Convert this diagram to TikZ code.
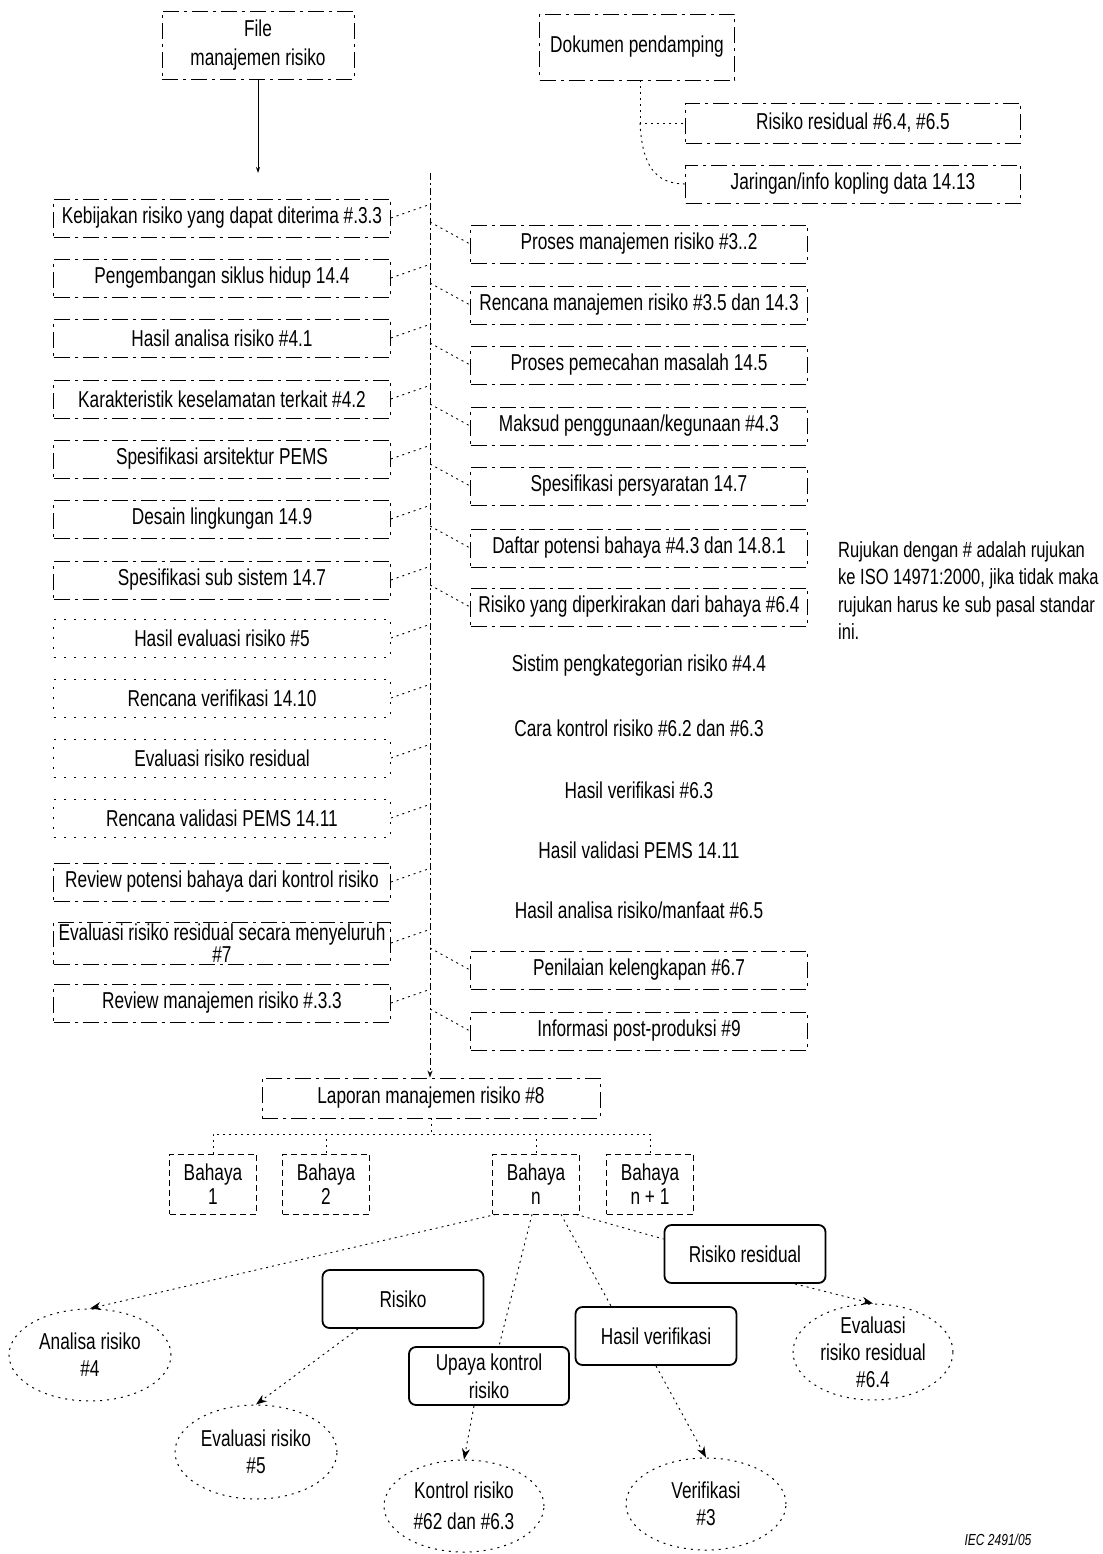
\documentclass[tikz,border=0pt]{standalone}
\usepackage{fontspec}
\setmainfont{Liberation Sans}[FakeStretch=0.75]
\usetikzlibrary{shapes.geometric,arrows.meta,calc}
\begin{document}
\begin{tikzpicture}[x=1pt,y=-1pt,
  every node/.style={font=\fontsize{23}{27}\selectfont},
  boxln/.style={draw, line width=0.9pt, dash pattern=on 16pt off 5pt on 3pt off 5pt, inner sep=0pt, align=center},
  lbox/.style={boxln, minimum width=337pt, minimum height=38pt},
  fbox/.style={draw, line width=0.9pt, dash pattern=on 2pt off 8pt, minimum width=337pt, minimum height=38pt, inner sep=0pt},
  plainrow/.style={minimum width=337pt, minimum height=38pt, inner sep=0pt},
  bbox/.style={draw, line width=0.7pt, dash pattern=on 6pt off 4pt, minimum width=87pt, minimum height=60pt, inner sep=0pt, align=center, font=\fontsize{23}{24}\selectfont},
  rnd/.style={draw, line width=1.8pt, rounded corners=7pt, inner sep=0pt, align=center},
  ell/.style={ellipse, draw, line width=1pt, dash pattern=on 2pt off 5pt, inner sep=0pt},
  elltext/.style={align=center, inner sep=0pt},
  conn/.style={line width=0.9pt, dash pattern=on 2pt off 4pt},
  arr/.style={conn, -{Stealth[length=11pt,width=8pt]}},
  spine/.style={line width=1pt, dash pattern=on 7pt off 3pt on 2pt off 3pt}
]
\path[use as bounding box] (0,0) rectangle (1102,1554);

% ---------- top ----------
\node[boxln, minimum width=192pt, minimum height=68pt, font=\fontsize{23}{29}\selectfont] (file) at (258,45) {File\\manajemen risiko};
\node[boxln, minimum width=195pt, minimum height=66pt] (dok) at (637,47) {Dokumen pendamping};
\node[boxln, minimum width=335pt, minimum height=40pt] (rr) at (853,123) {Risiko residual \#6.4, \#6.5};
\node[boxln, minimum width=335pt, minimum height=38pt] (jar) at (853,184) {Jaringan/info kopling data 14.13};

\coordinate (dk) at (640,123);
\draw[conn] (dok.south -| dk) -- (dk) -- (rr.west);
\draw[conn] (dk) .. controls (642,165) and (655,184) .. (jar.west);

\coordinate (fe) at (258,173);
\draw[line width=0.9pt, -{Stealth[length=6pt,width=4pt]}] (file.south) -- (fe);

% ---------- left column ----------
\node[lbox] (L1) at (222,218) {Kebijakan risiko yang dapat diterima \#.3.3};
\node[lbox] (L2) at (222,278) {Pengembangan siklus hidup 14.4};
\node[lbox] (L3) at (222,338) {Hasil analisa risiko \#4.1};
\node[lbox] (L4) at (222,399) {Karakteristik keselamatan terkait \#4.2};
\node[lbox] (L5) at (222,459) {Spesifikasi arsitektur PEMS};
\node[lbox] (L6) at (222,519) {Desain lingkungan 14.9};
\node[lbox] (L7) at (222,580) {Spesifikasi sub sistem 14.7};
\node[fbox] (L8) at (222,638) {Hasil evaluasi risiko \#5};
\node[fbox] (L9) at (222,698) {Rencana verifikasi 14.10};
\node[fbox] (L10) at (222,758) {Evaluasi risiko residual};
\node[fbox] (L11) at (222,818) {Rencana validasi PEMS 14.11};
\node[lbox] (L12) at (222,882) {Review potensi bahaya dari kontrol risiko};
\node[lbox, minimum height=42pt, font=\fontsize{23}{22}\selectfont] (L13) at (222,943) {Evaluasi risiko residual secara menyeluruh\\\#7};
\node[lbox] (L14) at (222,1003) {Review manajemen risiko \#.3.3};

\foreach \n in {L1,L2,L3,L4,L5,L6,L7,L8,L9,L10,L11,L12,L13,L14}
  \draw[conn] (\n.east) -- ++(40,-14);

% ---------- spine ----------
\coordinate (sp) at (430,173);

% ---------- right column ----------
\node[lbox] (R1) at (639,244) {Proses manajemen risiko \#3..2};
\node[lbox] (R2) at (639,305) {Rencana manajemen risiko \#3.5 dan 14.3};
\node[lbox] (R3) at (639,365) {Proses pemecahan masalah 14.5};
\node[lbox] (R4) at (639,426) {Maksud penggunaan/kegunaan \#4.3};
\node[lbox] (R5) at (639,486) {Spesifikasi persyaratan 14.7};
\node[lbox] (R6) at (639,548) {Daftar potensi bahaya \#4.3 dan 14.8.1};
\node[lbox] (R7) at (639,607) {Risiko yang diperkirakan dari bahaya \#6.4};
\node[plainrow] (R8) at (639,666) {Sistim pengkategorian risiko \#4.4};
\node[plainrow] (R9) at (639,728) {Cara kontrol risiko \#6.2 dan \#6.3};
\node[plainrow] (R10) at (639,790) {Hasil verifikasi \#6.3};
\node[plainrow] (R11) at (639,850) {Hasil validasi PEMS 14.11};
\node[plainrow] (R12) at (639,910) {Hasil analisa risiko/manfaat \#6.5};
\node[lbox] (R13) at (639,970) {Penilaian kelengkapan \#6.7};
\node[lbox] (R14) at (639,1031) {Informasi post-produksi \#9};

\foreach \n in {R1,R2,R3,R4,R5,R6,R7,R13,R14}
  \draw[conn] (\n.west) ++(-40,-22) -- (\n.west);

\node[anchor=north west, align=left, inner sep=0pt, font=\fontsize{22}{27.5}\selectfont] (note) at (838,541)
  {Rujukan dengan \# adalah rujukan\\ke ISO 14971:2000, jika tidak maka\\rujukan harus ke sub pasal standar\\ini.};

% ---------- report and hazards ----------
\node[boxln, minimum width=338pt, minimum height=40pt] (lap) at (431,1098) {Laporan manajemen risiko \#8};
\draw[spine, -{Stealth[length=7pt,width=5pt]}] (sp) -- (lap.north -| sp);

\node[bbox] (b1) at (213,1184) {Bahaya\\1};
\node[bbox] (b2) at (326,1184) {Bahaya\\2};
\node[bbox] (bn) at (536,1184) {Bahaya\\n};
\node[bbox] (bn1) at (650,1184) {Bahaya\\n + 1};

\foreach \n in {b1,b2,bn,bn1}
  \draw[conn] (lap.south) -- ++(0,16) -| (\n.north);

% ---------- bottom ----------
\node[rnd, minimum width=161pt, minimum height=58pt] (risk) at (403,1299) {Risiko};
\node[rnd, minimum width=161pt, minimum height=58pt] (rres) at (745,1254) {Risiko residual};
\node[rnd, minimum width=161pt, minimum height=58pt] (hv) at (656,1336) {Hasil verifikasi};
\node[rnd, minimum width=160pt, minimum height=58pt, font=\fontsize{23}{28}\selectfont] (upk) at (489,1376) {Upaya kontrol\\risiko};

\node[ell, minimum width=162pt, minimum height=92pt] (ar) at (90,1355) {};
\node[elltext] (art) at (ar) {Analisa risiko\\\#4};
\node[ell, minimum width=162pt, minimum height=94pt] (er) at (256,1452) {};
\node[elltext] (ert) at (er) {Evaluasi risiko\\\#5};
\node[ell, minimum width=160pt, minimum height=92pt] (kr) at (464,1506) {};
\node[elltext, font=\fontsize{23}{31}\selectfont] (krt) at (kr) {Kontrol risiko\\\#62 dan \#6.3};
\node[ell, minimum width=160pt, minimum height=96pt] (err) at (873,1352) {};
\node[elltext] (errt) at (err) {Evaluasi\\risiko residual\\\#6.4};
\node[ell, minimum width=160pt, minimum height=92pt] (ver) at (706,1504) {};
\node[elltext] (vert) at (ver) {Verifikasi\\\#3};

\draw[arr] ([xshift=-40pt]bn.south) -- (ar.north);
\draw[arr] ([xshift=-45pt]risk.south) -- (er.north);
\draw[conn] ([xshift=-4pt]bn.south) -- ([xshift=10pt]upk.north);
\draw[arr] ([xshift=-15pt]upk.south) -- (kr.north);
\draw[conn] ([xshift=25pt]bn.south) -- ([xshift=-45pt]hv.north);
\draw[arr] (hv.south) -- (ver.north);
\draw[conn] ([xshift=40pt]bn.south) -- ($(rres.west)!0.5!(rres.north west)$);
\draw[arr] ([xshift=50pt]rres.south) -- (err.north);

\node[font=\fontsize{16}{18}\selectfont\itshape] (iec) at (998,1540) {IEC 2491/05};
\end{tikzpicture}
\end{document}
